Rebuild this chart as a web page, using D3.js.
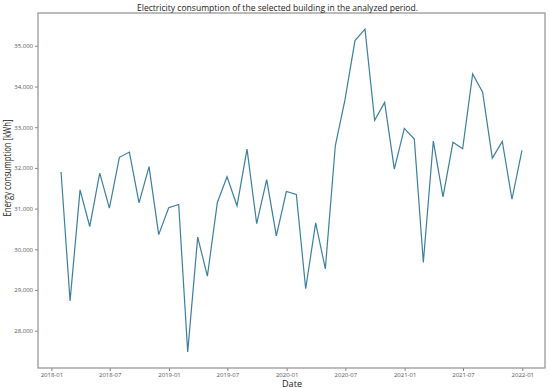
<!DOCTYPE html>
<html>
<head>
<meta charset="utf-8">
<script src="https://cdn.jsdelivr.net/npm/d3@7"></script>
<style>
  body { margin: 0; background: #fff; }
  text { font-family: "Open Sans", "DejaVu Sans", sans-serif; }
</style>
</head>
<body>
<div id="chart"></div>
<script>
// monthly totals, month-end dates from 2018-01 to 2021-12
const firstMonth = "2018-01";
const consumption = [
  31900, 28730, 31460, 30560, 31870, 31010, 32260, 32390, 31140, 32030, 30360, 31020,
  31100, 27480, 30300, 29340, 31150, 31780, 31070, 32460, 30630, 31710, 30330, 31420,
  31350, 29030, 30650, 29520, 32550, 33680, 35130, 35410, 33170, 33610, 31970, 32970,
  32710, 29680, 32660, 31290, 32630, 32470, 34310, 33860, 32240, 32650, 31230, 32430
];
const yTicks = [28000, 29000, 30000, 31000, 32000, 33000, 34000, 35000];
const xTicks = ["2018-01", "2018-07", "2019-01", "2019-07", "2020-01", "2020-07", "2021-01", "2021-07", "2022-01"];

const width = 550, height = 388;
const margin = {top: 13, right: 5, bottom: 20, left: 38};

const parseMonth = d3.utcParse("%Y-%m");
const start = parseMonth(firstMonth);
// month-end stamps (pandas style resample)
const data = consumption.map((v, i) => ({
  date: d3.utcDay.offset(d3.utcMonth.offset(start, i + 1), -1),
  value: v
}));

const svg = d3.select("#chart").append("svg")
  .attr("width", width)
  .attr("height", height);

// 5% padding like matplotlib
const xExt = d3.extent(data, d => d.date);
const xPad = (xExt[1] - xExt[0]) * 0.05;
const x = d3.scaleUtc()
  .domain([new Date(+xExt[0] - xPad), new Date(+xExt[1] + xPad)])
  .range([margin.left, width - margin.right]);

const yExt = d3.extent(data, d => d.value);
const yPad = (yExt[1] - yExt[0]) * 0.05;
const y = d3.scaleLinear()
  .domain([yExt[0] - yPad, yExt[1] + yPad])
  .range([height - margin.bottom, margin.top]);

const fmt = d3.format(",");

const xAxis = svg.append("g")
  .attr("transform", `translate(0,${height - margin.bottom})`)
  .call(d3.axisBottom(x)
    .tickValues(xTicks.map(parseMonth))
    .tickFormat(d3.utcFormat("%Y-%m"))
    .tickSize(3).tickPadding(1.5));

const yAxis = svg.append("g")
  .attr("transform", `translate(${margin.left},0)`)
  .call(d3.axisLeft(y)
    .tickValues(yTicks)
    .tickFormat(fmt)
    .tickSize(3).tickPadding(2));

[xAxis, yAxis].forEach(g => {
  g.select(".domain").remove();
  g.selectAll(".tick line").attr("stroke", "#666").attr("stroke-width", 0.8);
  g.selectAll(".tick text").attr("fill", "#555").style("font-size", "6px");
});

// frame
svg.append("rect")
  .attr("x", margin.left)
  .attr("y", margin.top)
  .attr("width", width - margin.left - margin.right)
  .attr("height", height - margin.top - margin.bottom)
  .attr("fill", "none")
  .attr("stroke", "#999")
  .attr("stroke-width", 1.3);

const line = d3.line()
  .x(d => x(d.date))
  .y(d => y(d.value));

svg.append("path")
  .datum(data)
  .attr("d", line)
  .attr("fill", "none")
  .attr("stroke", "#3b7fa1")
  .attr("stroke-width", 1.2);

// title and labels
svg.append("text")
  .attr("x", 277.5)
  .attr("y", 10.5)
  .attr("text-anchor", "middle")
  .attr("fill", "#222")
  .attr("textLength", 281)
  .attr("lengthAdjust", "spacingAndGlyphs")
  .style("font-size", "9.5px")
  .text("Electricity consumption of the selected building in the analyzed period.");

svg.append("text")
  .attr("x", 292)
  .attr("y", 386.5)
  .attr("text-anchor", "middle")
  .attr("fill", "#222")
  .attr("textLength", 20)
  .attr("lengthAdjust", "spacingAndGlyphs")
  .style("font-size", "8.5px")
  .text("Date");

svg.append("text")
  .attr("transform", "translate(11,168) rotate(-90)")
  .attr("text-anchor", "middle")
  .attr("fill", "#222")
  .attr("textLength", 97)
  .attr("lengthAdjust", "spacingAndGlyphs")
  .style("font-size", "10px")
  .text("Energy consumption [kWh]");
</script>
</body>
</html>
